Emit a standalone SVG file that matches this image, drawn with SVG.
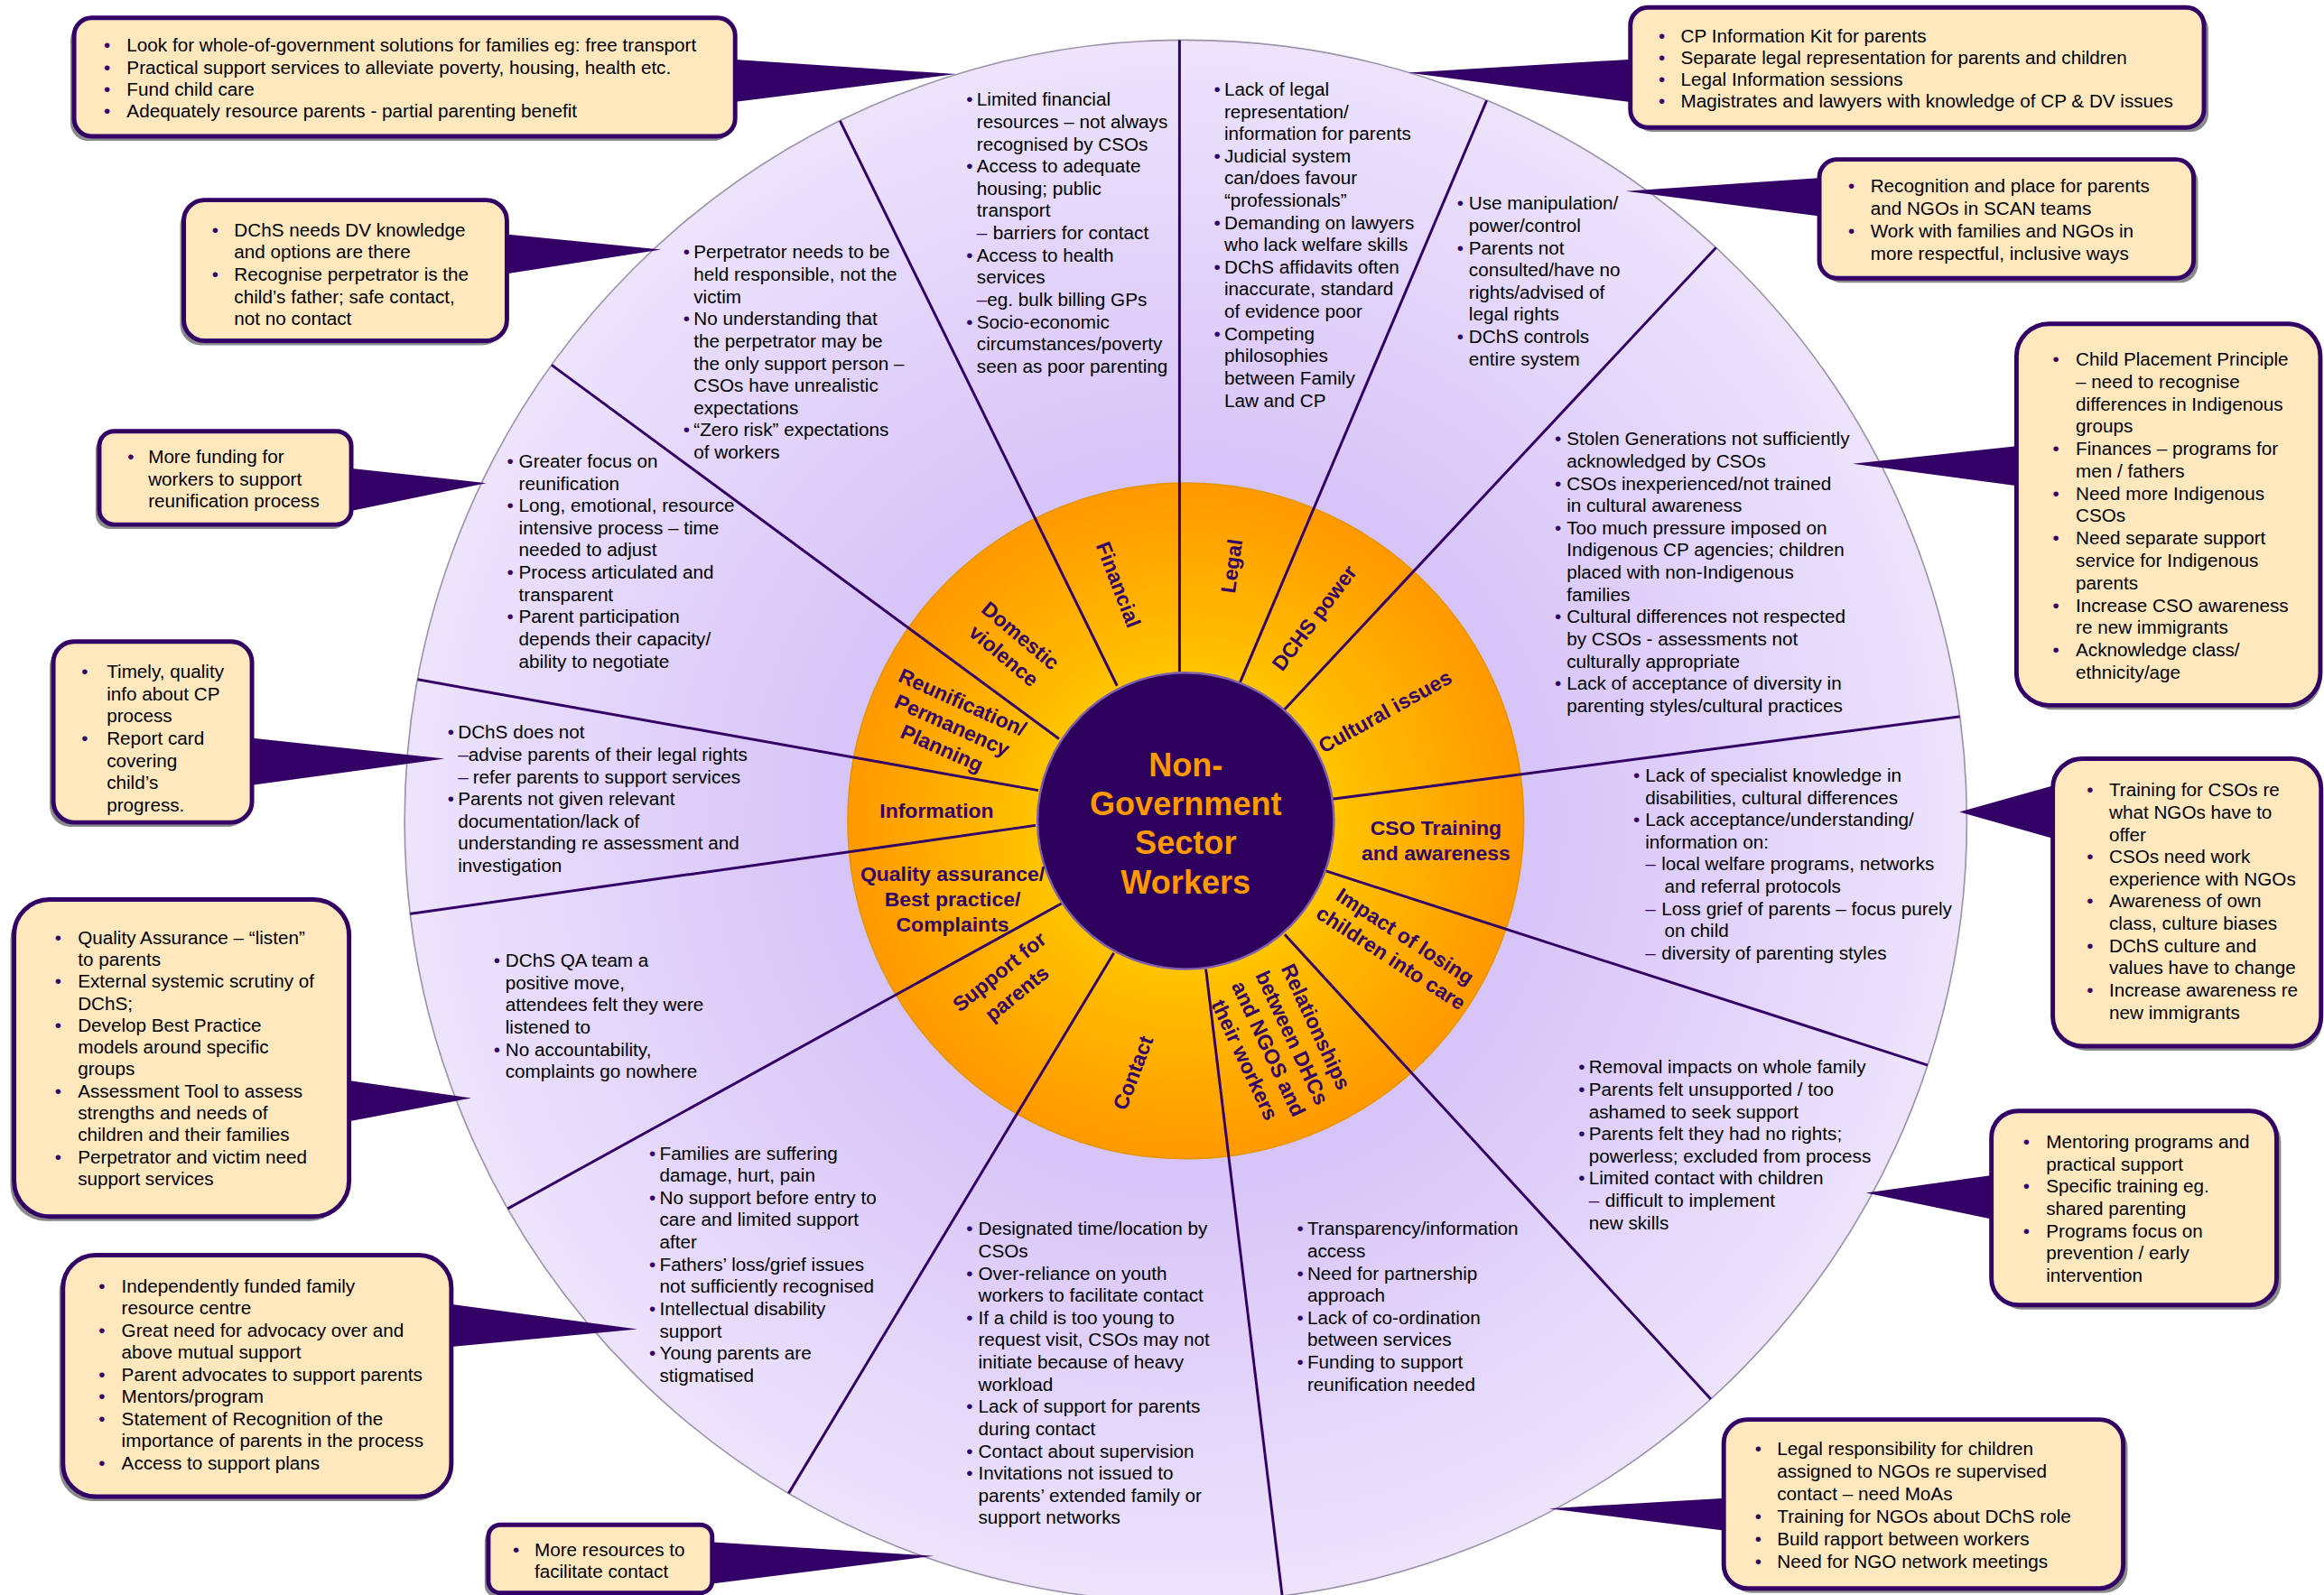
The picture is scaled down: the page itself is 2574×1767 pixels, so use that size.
<svg xmlns="http://www.w3.org/2000/svg" width="2574" height="1767" viewBox="0 0 2574 1767">
<defs>
<style>
.t{font-family:"Liberation Sans",Arial,sans-serif;font-size:12.6px;fill:#000}
.b{fill:#330066}
.lb{font-family:"Liberation Sans",Arial,sans-serif;font-size:14px;font-weight:bold;fill:#330066;text-anchor:middle}
.ctr{font-family:"Liberation Sans",Arial,sans-serif;font-size:22px;font-weight:bold;fill:#ff9900;text-anchor:middle}
.box{fill:#ffe8bd;stroke:#330066;stroke-width:3}
.sh{fill:#8a8a8a}
.ptr{fill:#330066}
.sp{stroke:#330066;stroke-width:1.8;fill:none}
</style>
<radialGradient id="gBig" gradientUnits="userSpaceOnUse" cx="800" cy="554" r="527">
<stop offset="0.4" stop-color="#d6c2f7"/>
<stop offset="0.7" stop-color="#e1d2fa"/>
<stop offset="1" stop-color="#ede4fc"/>
</radialGradient>
<radialGradient id="gRing" gradientUnits="userSpaceOnUse" cx="800" cy="554" r="228">
<stop offset="0.44" stop-color="#ffc400"/>
<stop offset="0.75" stop-color="#ffab00"/>
<stop offset="1" stop-color="#ff9900"/>
</radialGradient>
<clipPath id="clipBig"><circle cx="800" cy="554" r="527"/></clipPath>
</defs>
<rect width="2574" height="1767" fill="#ffffff"/>
<g transform="scale(1.6416)">

<g id="wheel">
<circle cx="800" cy="554" r="527" fill="url(#gBig)" stroke="#9b93a8" stroke-width="1"/>
<circle cx="800" cy="554" r="228" fill="url(#gRing)" stroke="#e69500" stroke-width="1"/>
</g>

<g id="connectors" clip-path="url(#clipBig)">
<path class="sp" d="M795.8,453.5 L795.8,0"/>
<path class="sp" d="M753.7,462.8 L548.3,43.9"/>
<path class="sp" d="M714.5,498.6 L338.9,221.8"/>
<path class="sp" d="M700.5,533.4 L230.3,449.4"/>
<path class="sp" d="M698.7,557 L232.6,623"/>
<path class="sp" d="M716.1,609.8 L304.6,836.6"/>
<path class="sp" d="M751.5,643.1 L513.3,1039"/>
<path class="sp" d="M813.6,654 L867.9,1100"/>
<path class="sp" d="M866.8,630.7 L1183.8,976.4"/>
<path class="sp" d="M894.6,587.8 L1338.3,731"/>
<path class="sp" d="M898.7,539.3 L1368.7,477.4"/>
<path class="sp" d="M865.9,479.6 L1186.1,136.8"/>
<path class="sp" d="M836.6,460.6 L1019.6,28.7"/>
</g>

<g id="center">
<circle cx="800" cy="554" r="100" fill="#2e005e" stroke="#7d5fae" stroke-width="1.5"/>
<text class="ctr" x="800" y="523.7">Non-</text>
<text class="ctr" x="800" y="550.1">Government</text>
<text class="ctr" x="800" y="576.5">Sector</text>
<text class="ctr" x="800" y="602.9">Workers</text>
</g>

<g id="labels">
<text class="lb" transform="translate(754.7,394.5) rotate(69)" y="5">Financial</text>
<text class="lb" transform="translate(830.8,382) rotate(-82)" y="5">Legal</text>
<text class="lb" transform="translate(886.6,416.9) rotate(-53)" y="5">DCHS power</text>
<text class="lb" transform="translate(934.4,480) rotate(-29)" y="5">Cultural issues</text>
<text class="lb" x="968.8" y="563.5">CSO Training</text>
<text class="lb" x="968.8" y="580.7">and awareness</text>
<text class="lb" transform="translate(943.3,639) rotate(33)"><tspan x="0" y="-3.7">Impact of losing</tspan><tspan x="0" y="13.7">children into care</tspan></text>
<text class="lb" transform="translate(864,704) rotate(65)"><tspan x="0" y="-21.5">Relationships</tspan><tspan x="0" y="-3.8">between DHCs</tspan><tspan x="0" y="13.8">and NGOS and</tspan><tspan x="0" y="31.5">their workers</tspan></text>
<text class="lb" transform="translate(764.3,723.9) rotate(-69)" y="5">Contact</text>
<text class="lb" transform="translate(680,663) rotate(-39)"><tspan x="0" y="-4.4">Support for</tspan><tspan x="0" y="14.4">parents</tspan></text>
<text class="lb" x="642.7" y="594.7">Quality assurance/</text>
<text class="lb" x="642.7" y="611.4">Best practice/</text>
<text class="lb" x="642.7" y="628.5">Complaints</text>
<text class="lb" x="632" y="551.8">Information</text>
<text class="lb" transform="translate(642.5,489.3) rotate(24)"><tspan x="0" y="-12">Reunification/</tspan><tspan x="0" y="5">Permanency</tspan><tspan x="0" y="22">Planning</tspan></text>
<text class="lb" transform="translate(683,435.6) rotate(40)"><tspan x="0" y="-3.8">Domestic</tspan><tspan x="0" y="13.8">violence</tspan></text>
</g>

<g id="seg-financial"><text class="t">
<tspan class="b" x="652" y="71.5">•</tspan><tspan x="659">Limited financial</tspan>
<tspan x="659" y="86.5">resources – not always</tspan>
<tspan x="659" y="101.5">recognised by CSOs</tspan>
<tspan class="b" x="652" y="116.5">•</tspan><tspan x="659">Access to adequate</tspan>
<tspan x="659" y="131.5">housing; public</tspan>
<tspan x="659" y="146.5">transport</tspan>
<tspan class="b" x="659" y="161.5">–</tspan><tspan x="670">barriers for contact</tspan>
<tspan class="b" x="652" y="176.5">•</tspan><tspan x="659">Access to health</tspan>
<tspan x="659" y="191.5">services</tspan>
<tspan class="b" x="659" y="206.5">–</tspan><tspan>eg. bulk billing GPs</tspan>
<tspan class="b" x="652" y="221.5">•</tspan><tspan x="659">Socio-economic</tspan>
<tspan x="659" y="236.5">circumstances/poverty</tspan>
<tspan x="659" y="251.5">seen as poor parenting</tspan>
</text></g>

<g id="seg-legal"><text class="t">
<tspan class="b" x="819" y="64.5">•</tspan><tspan x="826">Lack of legal</tspan>
<tspan x="826" y="79.5">representation/</tspan>
<tspan x="826" y="94.5">information for parents</tspan>
<tspan class="b" x="819" y="109.5">•</tspan><tspan x="826">Judicial system</tspan>
<tspan x="826" y="124.5">can/does favour</tspan>
<tspan x="826" y="139.5">“professionals”</tspan>
<tspan class="b" x="819" y="154.5">•</tspan><tspan x="826">Demanding on lawyers</tspan>
<tspan x="826" y="169.5">who lack welfare skills</tspan>
<tspan class="b" x="819" y="184.5">•</tspan><tspan x="826">DChS affidavits often</tspan>
<tspan x="826" y="199.5">inaccurate, standard</tspan>
<tspan x="826" y="214.5">of evidence poor</tspan>
<tspan class="b" x="819" y="229.5">•</tspan><tspan x="826">Competing</tspan>
<tspan x="826" y="244.5">philosophies</tspan>
<tspan x="826" y="259.5">between Family</tspan>
<tspan x="826" y="274.5">Law and CP</tspan>
</text></g>

<g id="seg-dchs"><text class="t">
<tspan class="b" x="983" y="141.5">•</tspan><tspan x="991">Use manipulation/</tspan>
<tspan x="991" y="156.5">power/control</tspan>
<tspan class="b" x="983" y="171.5">•</tspan><tspan x="991">Parents not</tspan>
<tspan x="991" y="186.5">consulted/have no</tspan>
<tspan x="991" y="201.5">rights/advised of</tspan>
<tspan x="991" y="216.5">legal rights</tspan>
<tspan class="b" x="983" y="231.5">•</tspan><tspan x="991">DChS controls</tspan>
<tspan x="991" y="246.5">entire system</tspan>
</text></g>

<g id="seg-cultural"><text class="t">
<tspan class="b" x="1049" y="300.5">•</tspan><tspan x="1057">Stolen Generations not sufficiently</tspan>
<tspan x="1057" y="315.5">acknowledged by CSOs</tspan>
<tspan class="b" x="1049" y="330.5">•</tspan><tspan x="1057">CSOs inexperienced/not trained</tspan>
<tspan x="1057" y="345.5">in cultural awareness</tspan>
<tspan class="b" x="1049" y="360.5">•</tspan><tspan x="1057">Too much pressure imposed on</tspan>
<tspan x="1057" y="375.5">Indigenous CP agencies; children</tspan>
<tspan x="1057" y="390.5">placed with non-Indigenous</tspan>
<tspan x="1057" y="405.5">families</tspan>
<tspan class="b" x="1049" y="420.5">•</tspan><tspan x="1057">Cultural differences not respected</tspan>
<tspan x="1057" y="435.5">by CSOs - assessments not</tspan>
<tspan x="1057" y="450.5">culturally appropriate</tspan>
<tspan class="b" x="1049" y="465.5">•</tspan><tspan x="1057">Lack of acceptance of diversity in</tspan>
<tspan x="1057" y="480.5">parenting styles/cultural practices</tspan>
</text></g>

<g id="seg-cso"><text class="t">
<tspan class="b" x="1102" y="527.5">•</tspan><tspan x="1110">Lack of specialist knowledge in</tspan>
<tspan x="1110" y="542.5">disabilities, cultural differences</tspan>
<tspan class="b" x="1102" y="557.5">•</tspan><tspan x="1110">Lack acceptance/understanding/</tspan>
<tspan x="1110" y="572.5">information on:</tspan>
<tspan class="b" x="1110" y="587.5">–</tspan><tspan x="1121">local welfare programs, networks</tspan>
<tspan x="1123" y="602.5">and referral protocols</tspan>
<tspan class="b" x="1110" y="617.5">–</tspan><tspan x="1121">Loss grief of parents – focus purely</tspan>
<tspan x="1123" y="632.5">on child</tspan>
<tspan class="b" x="1110" y="647.5">–</tspan><tspan x="1121">diversity of parenting styles</tspan>
</text></g>

<g id="seg-impact"><text class="t">
<tspan class="b" x="1065" y="724.5">•</tspan><tspan x="1072">Removal impacts on whole family</tspan>
<tspan class="b" x="1065" y="739.5">•</tspan><tspan x="1072">Parents felt unsupported / too</tspan>
<tspan x="1072" y="754.5">ashamed to seek support</tspan>
<tspan class="b" x="1065" y="769.5">•</tspan><tspan x="1072">Parents felt they had no rights;</tspan>
<tspan x="1072" y="784.5">powerless; excluded from process</tspan>
<tspan class="b" x="1065" y="799.5">•</tspan><tspan x="1072">Limited contact with children</tspan>
<tspan class="b" x="1072" y="814.5">–</tspan><tspan x="1083">difficult to implement</tspan>
<tspan x="1072" y="829.5">new skills</tspan>
</text></g>

<g id="seg-relationships"><text class="t">
<tspan class="b" x="875" y="833.5">•</tspan><tspan x="882">Transparency/information</tspan>
<tspan x="882" y="848.5">access</tspan>
<tspan class="b" x="875" y="863.5">•</tspan><tspan x="882">Need for partnership</tspan>
<tspan x="882" y="878.5">approach</tspan>
<tspan class="b" x="875" y="893.5">•</tspan><tspan x="882">Lack of co-ordination</tspan>
<tspan x="882" y="908.5">between services</tspan>
<tspan class="b" x="875" y="923.5">•</tspan><tspan x="882">Funding to support</tspan>
<tspan x="882" y="938.5">reunification needed</tspan>
</text></g>

<g id="seg-contact"><text class="t">
<tspan class="b" x="652" y="833.5">•</tspan><tspan x="660">Designated time/location by</tspan>
<tspan x="660" y="848.5">CSOs</tspan>
<tspan class="b" x="652" y="863.5">•</tspan><tspan x="660">Over-reliance on youth</tspan>
<tspan x="660" y="878.5">workers to facilitate contact</tspan>
<tspan class="b" x="652" y="893.5">•</tspan><tspan x="660">If a child is too young to</tspan>
<tspan x="660" y="908.5">request visit, CSOs may not</tspan>
<tspan x="660" y="923.5">initiate because of heavy</tspan>
<tspan x="660" y="938.5">workload</tspan>
<tspan class="b" x="652" y="953.5">•</tspan><tspan x="660">Lack of support for parents</tspan>
<tspan x="660" y="968.5">during contact</tspan>
<tspan class="b" x="652" y="983.5">•</tspan><tspan x="660">Contact about supervision</tspan>
<tspan class="b" x="652" y="998.5">•</tspan><tspan x="660">Invitations not issued to</tspan>
<tspan x="660" y="1013.5">parents’ extended family or</tspan>
<tspan x="660" y="1028.5">support networks</tspan>
</text></g>

<g id="seg-support"><text class="t">
<tspan class="b" x="438" y="782.5">•</tspan><tspan x="445">Families are suffering</tspan>
<tspan x="445" y="797.5">damage, hurt, pain</tspan>
<tspan class="b" x="438" y="812.5">•</tspan><tspan x="445">No support before entry to</tspan>
<tspan x="445" y="827.5">care and limited support</tspan>
<tspan x="445" y="842.5">after</tspan>
<tspan class="b" x="438" y="857.5">•</tspan><tspan x="445">Fathers’ loss/grief issues</tspan>
<tspan x="445" y="872.5">not sufficiently recognised</tspan>
<tspan class="b" x="438" y="887.5">•</tspan><tspan x="445">Intellectual disability</tspan>
<tspan x="445" y="902.5">support</tspan>
<tspan class="b" x="438" y="917.5">•</tspan><tspan x="445">Young parents are</tspan>
<tspan x="445" y="932.5">stigmatised</tspan>
</text></g>

<g id="seg-quality"><text class="t">
<tspan class="b" x="333" y="652.5">•</tspan><tspan x="341">DChS QA team a</tspan>
<tspan x="341" y="667.5">positive move,</tspan>
<tspan x="341" y="682.5">attendees felt they were</tspan>
<tspan x="341" y="697.5">listened to</tspan>
<tspan class="b" x="333" y="712.5">•</tspan><tspan x="341">No accountability,</tspan>
<tspan x="341" y="727.5">complaints go nowhere</tspan>
</text></g>

<g id="seg-information"><text class="t">
<tspan class="b" x="302" y="498.5">•</tspan><tspan x="309">DChS does not</tspan>
<tspan class="b" x="309" y="513.5">–</tspan><tspan>advise parents of their legal rights</tspan>
<tspan class="b" x="309" y="528.5">–</tspan><tspan x="319">refer parents to support services</tspan>
<tspan class="b" x="302" y="543.5">•</tspan><tspan x="309">Parents not given relevant</tspan>
<tspan x="309" y="558.5">documentation/lack of</tspan>
<tspan x="309" y="573.5">understanding re assessment and</tspan>
<tspan x="309" y="588.5">investigation</tspan>
</text></g>

<g id="seg-reunification"><text class="t">
<tspan class="b" x="342" y="315.5">•</tspan><tspan x="350">Greater focus on</tspan>
<tspan x="350" y="330.5">reunification</tspan>
<tspan class="b" x="342" y="345.5">•</tspan><tspan x="350">Long, emotional, resource</tspan>
<tspan x="350" y="360.5">intensive process – time</tspan>
<tspan x="350" y="375.5">needed to adjust</tspan>
<tspan class="b" x="342" y="390.5">•</tspan><tspan x="350">Process articulated and</tspan>
<tspan x="350" y="405.5">transparent</tspan>
<tspan class="b" x="342" y="420.5">•</tspan><tspan x="350">Parent participation</tspan>
<tspan x="350" y="435.5">depends their capacity/</tspan>
<tspan x="350" y="450.5">ability to negotiate</tspan>
</text></g>

<g id="seg-dv"><text class="t">
<tspan class="b" x="461" y="174.5">•</tspan><tspan x="468">Perpetrator needs to be</tspan>
<tspan x="468" y="189.5">held responsible, not the</tspan>
<tspan x="468" y="204.5">victim</tspan>
<tspan class="b" x="461" y="219.5">•</tspan><tspan x="468">No understanding that</tspan>
<tspan x="468" y="234.5">the perpetrator may be</tspan>
<tspan x="468" y="249.5">the only support person –</tspan>
<tspan x="468" y="264.5">CSOs have unrealistic</tspan>
<tspan x="468" y="279.5">expectations</tspan>
<tspan class="b" x="461" y="294.5">•</tspan><tspan x="468">“Zero risk” expectations</tspan>
<tspan x="468" y="309.5">of workers</tspan>
</text></g>

<g id="callout-financial">
<polygon class="ptr" points="494,40 645,50 494,69"/>
<rect class="sh" x="47.5" y="15" width="446" height="80" rx="12"/>
<rect class="box" x="50" y="12" width="446" height="80" rx="12"/>
<text class="t">
<tspan class="b" x="70" y="35">•</tspan><tspan x="85.5">Look for whole-of-government solutions for families eg: free transport</tspan>
<tspan class="b" x="70" y="49.8">•</tspan><tspan x="85.5">Practical support services to alleviate poverty, housing, health etc.</tspan>
<tspan class="b" x="70" y="64.6">•</tspan><tspan x="85.5">Fund child care</tspan>
<tspan class="b" x="70" y="79.4">•</tspan><tspan x="85.5">Adequately resource parents - partial parenting benefit</tspan>
</text>
</g>

<g id="callout-dv">
<polygon class="ptr" points="340,158 446,168.5 340,185"/>
<rect class="sh" x="121.5" y="138" width="218" height="95" rx="14"/>
<rect class="box" x="124" y="135" width="218" height="95" rx="14"/>
<text class="t">
<tspan class="b" x="143" y="159.5">•</tspan><tspan x="158">DChS needs DV knowledge</tspan>
<tspan x="158" y="174.5">and options are there</tspan>
<tspan class="b" x="143" y="189.5">•</tspan><tspan x="158">Recognise perpetrator is the</tspan>
<tspan x="158" y="204.5">child’s father; safe contact,</tspan>
<tspan x="158" y="219.5">not no contact</tspan>
</text>
</g>

<g id="callout-reunification">
<polygon class="ptr" points="236,316 328,326 236,345"/>
<rect class="sh" x="64.5" y="294" width="170" height="63" rx="10"/>
<rect class="box" x="67" y="291" width="170" height="63" rx="10"/>
<text class="t">
<tspan class="b" x="86" y="312.5">•</tspan><tspan x="100">More funding for</tspan>
<tspan x="100" y="327.5">workers to support</tspan>
<tspan x="100" y="342.5">reunification process</tspan>
</text>
</g>

<g id="callout-information">
<polygon class="ptr" points="169,498 300,512 169,530"/>
<rect class="sh" x="33.5" y="436" width="134" height="122" rx="14"/>
<rect class="box" x="36" y="433" width="134" height="122" rx="14"/>
<text class="t">
<tspan class="b" x="55" y="457.5">•</tspan><tspan x="72">Timely, quality</tspan>
<tspan x="72" y="472.5">info about CP</tspan>
<tspan x="72" y="487.5">process</tspan>
<tspan class="b" x="55" y="502.5">•</tspan><tspan x="72">Report card</tspan>
<tspan x="72" y="517.5">covering</tspan>
<tspan x="72" y="532.5">child’s</tspan>
<tspan x="72" y="547.5">progress.</tspan>
</text>
</g>

<g id="callout-quality">
<polygon class="ptr" points="234,729 318,741 234,757"/>
<rect class="sh" x="7" y="610" width="226" height="214" rx="24"/>
<rect class="box" x="9.5" y="607" width="226" height="214" rx="24"/>
<text class="t">
<tspan class="b" x="37" y="637">•</tspan><tspan x="52.5">Quality Assurance – “listen”</tspan>
<tspan x="52.5" y="651.8">to parents</tspan>
<tspan class="b" x="37" y="666.6">•</tspan><tspan x="52.5">External systemic scrutiny of</tspan>
<tspan x="52.5" y="681.4">DChS;</tspan>
<tspan class="b" x="37" y="696.2">•</tspan><tspan x="52.5">Develop Best Practice</tspan>
<tspan x="52.5" y="711">models around specific</tspan>
<tspan x="52.5" y="725.8">groups</tspan>
<tspan class="b" x="37" y="740.6">•</tspan><tspan x="52.5">Assessment Tool to assess</tspan>
<tspan x="52.5" y="755.4">strengths and needs of</tspan>
<tspan x="52.5" y="770.2">children and their families</tspan>
<tspan class="b" x="37" y="785">•</tspan><tspan x="52.5">Perpetrator and victim need</tspan>
<tspan x="52.5" y="799.8">support services</tspan>
</text>
</g>

<g id="callout-support">
<polygon class="ptr" points="303,880 430,897 303,909"/>
<rect class="sh" x="40" y="850" width="262" height="163" rx="22"/>
<rect class="box" x="42.5" y="847" width="262" height="163" rx="22"/>
<text class="t">
<tspan class="b" x="66.5" y="872.3">•</tspan><tspan x="82">Independently funded family</tspan>
<tspan x="82" y="887.2">resource centre</tspan>
<tspan class="b" x="66.5" y="902.1">•</tspan><tspan x="82">Great need for advocacy over and</tspan>
<tspan x="82" y="917">above mutual support</tspan>
<tspan class="b" x="66.5" y="931.9">•</tspan><tspan x="82">Parent advocates to support parents</tspan>
<tspan class="b" x="66.5" y="946.8">•</tspan><tspan x="82">Mentors/program</tspan>
<tspan class="b" x="66.5" y="961.7">•</tspan><tspan x="82">Statement of Recognition of the</tspan>
<tspan x="82" y="976.6">importance of parents in the process</tspan>
<tspan class="b" x="66.5" y="991.5">•</tspan><tspan x="82">Access to support plans</tspan>
</text>
</g>

<g id="callout-contact">
<polygon class="ptr" points="479,1040.6 630,1050 479,1069"/>
<rect class="sh" x="327" y="1032" width="151" height="46" rx="8"/>
<rect class="box" x="329.5" y="1029" width="151" height="46" rx="8"/>
<text class="t">
<tspan class="b" x="346" y="1050">•</tspan><tspan x="360.6">More resources to</tspan>
<tspan x="360.6" y="1065">facilitate contact</tspan>
</text>
</g>

<g id="callout-relationships">
<polygon class="ptr" points="1164,1011 1045,1018 1164,1033"/>
<rect class="sh" x="1166" y="961" width="269.5" height="114" rx="16"/>
<rect class="box" x="1163" y="958" width="269.5" height="114" rx="16"/>
<text class="t">
<tspan class="b" x="1184" y="982.2">•</tspan><tspan x="1199">Legal responsibility for children</tspan>
<tspan x="1199" y="997.4">assigned to NGOs re supervised</tspan>
<tspan x="1199" y="1012.6">contact – need MoAs</tspan>
<tspan class="b" x="1184" y="1027.8">•</tspan><tspan x="1199">Training for NGOs about DChS role</tspan>
<tspan class="b" x="1184" y="1043">•</tspan><tspan x="1199">Build rapport between workers</tspan>
<tspan class="b" x="1184" y="1058.2">•</tspan><tspan x="1199">Need for NGO network meetings</tspan>
</text>
</g>

<g id="callout-impact">
<polygon class="ptr" points="1345,793 1259,805 1345,823"/>
<rect class="sh" x="1346.6" y="752.7" width="192.4" height="131" rx="18"/>
<rect class="box" x="1343.6" y="749.7" width="192.4" height="131" rx="18"/>
<text class="t">
<tspan class="b" x="1365" y="775">•</tspan><tspan x="1380.5">Mentoring programs and</tspan>
<tspan x="1380.5" y="790">practical support</tspan>
<tspan class="b" x="1365" y="805">•</tspan><tspan x="1380.5">Specific training eg.</tspan>
<tspan x="1380.5" y="820">shared parenting</tspan>
<tspan class="b" x="1365" y="835">•</tspan><tspan x="1380.5">Programs focus on</tspan>
<tspan x="1380.5" y="850">prevention / early</tspan>
<tspan x="1380.5" y="865">intervention</tspan>
</text>
</g>

<g id="callout-cso">
<polygon class="ptr" points="1386,530 1322,548 1386,566"/>
<rect class="sh" x="1388" y="515" width="179" height="194" rx="20"/>
<rect class="box" x="1385" y="512" width="181" height="194" rx="20"/>
<text class="t">
<tspan class="b" x="1408" y="537.5">•</tspan><tspan x="1423">Training for CSOs re</tspan>
<tspan x="1423" y="552.5">what NGOs have to</tspan>
<tspan x="1423" y="567.5">offer</tspan>
<tspan class="b" x="1408" y="582.5">•</tspan><tspan x="1423">CSOs need work</tspan>
<tspan x="1423" y="597.5">experience with NGOs</tspan>
<tspan class="b" x="1408" y="612.5">•</tspan><tspan x="1423">Awareness of own</tspan>
<tspan x="1423" y="627.5">class, culture biases</tspan>
<tspan class="b" x="1408" y="642.5">•</tspan><tspan x="1423">DChS culture and</tspan>
<tspan x="1423" y="657.5">values have to change</tspan>
<tspan class="b" x="1408" y="672.5">•</tspan><tspan x="1423">Increase awareness re</tspan>
<tspan x="1423" y="687.5">new immigrants</tspan>
</text>
</g>

<g id="callout-cultural">
<polygon class="ptr" points="1362,301 1250,313 1362,328"/>
<rect class="sh" x="1363.5" y="221.5" width="203" height="257.5" rx="22"/>
<rect class="box" x="1360.5" y="218.5" width="205" height="257.5" rx="22"/>
<text class="t">
<tspan class="b" x="1385" y="246.7">•</tspan><tspan x="1400.5">Child Placement Principle</tspan>
<tspan x="1400.5" y="261.8">– need to recognise</tspan>
<tspan x="1400.5" y="276.9">differences in Indigenous</tspan>
<tspan x="1400.5" y="292">groups</tspan>
<tspan class="b" x="1385" y="307.1">•</tspan><tspan x="1400.5">Finances – programs for</tspan>
<tspan x="1400.5" y="322.2">men / fathers</tspan>
<tspan class="b" x="1385" y="337.3">•</tspan><tspan x="1400.5">Need more Indigenous</tspan>
<tspan x="1400.5" y="352.4">CSOs</tspan>
<tspan class="b" x="1385" y="367.5">•</tspan><tspan x="1400.5">Need separate support</tspan>
<tspan x="1400.5" y="382.6">service for Indigenous</tspan>
<tspan x="1400.5" y="397.7">parents</tspan>
<tspan class="b" x="1385" y="412.8">•</tspan><tspan x="1400.5">Increase CSO awareness</tspan>
<tspan x="1400.5" y="427.9">re new immigrants</tspan>
<tspan class="b" x="1385" y="443">•</tspan><tspan x="1400.5">Acknowledge class/</tspan>
<tspan x="1400.5" y="458.1">ethnicity/age</tspan>
</text>
</g>

<g id="callout-dchs">
<polygon class="ptr" points="1229,120 1097,129 1229,146"/>
<rect class="sh" x="1230.5" y="110.6" width="252.5" height="80.2" rx="12"/>
<rect class="box" x="1227.5" y="107.6" width="252.5" height="80.2" rx="12"/>
<text class="t">
<tspan class="b" x="1247" y="130">•</tspan><tspan x="1262">Recognition and place for parents</tspan>
<tspan x="1262" y="145.2">and NGOs in SCAN teams</tspan>
<tspan class="b" x="1247" y="160.4">•</tspan><tspan x="1262">Work with families and NGOs in</tspan>
<tspan x="1262" y="175.6">more respectful, inclusive ways</tspan>
</text>
</g>

<g id="callout-legal">
<polygon class="ptr" points="1101,40 950,49 1101,69"/>
<rect class="sh" x="1103" y="8" width="387" height="81" rx="12"/>
<rect class="box" x="1100" y="5" width="387" height="81" rx="12"/>
<text class="t">
<tspan class="b" x="1119" y="28.4">•</tspan><tspan x="1134">CP Information Kit for parents</tspan>
<tspan class="b" x="1119" y="43.1">•</tspan><tspan x="1134">Separate legal representation for parents and children</tspan>
<tspan class="b" x="1119" y="57.8">•</tspan><tspan x="1134">Legal Information sessions</tspan>
<tspan class="b" x="1119" y="72.5">•</tspan><tspan x="1134">Magistrates and lawyers with knowledge of CP &amp; DV issues</tspan>
</text>
</g>

</g>
</svg>
